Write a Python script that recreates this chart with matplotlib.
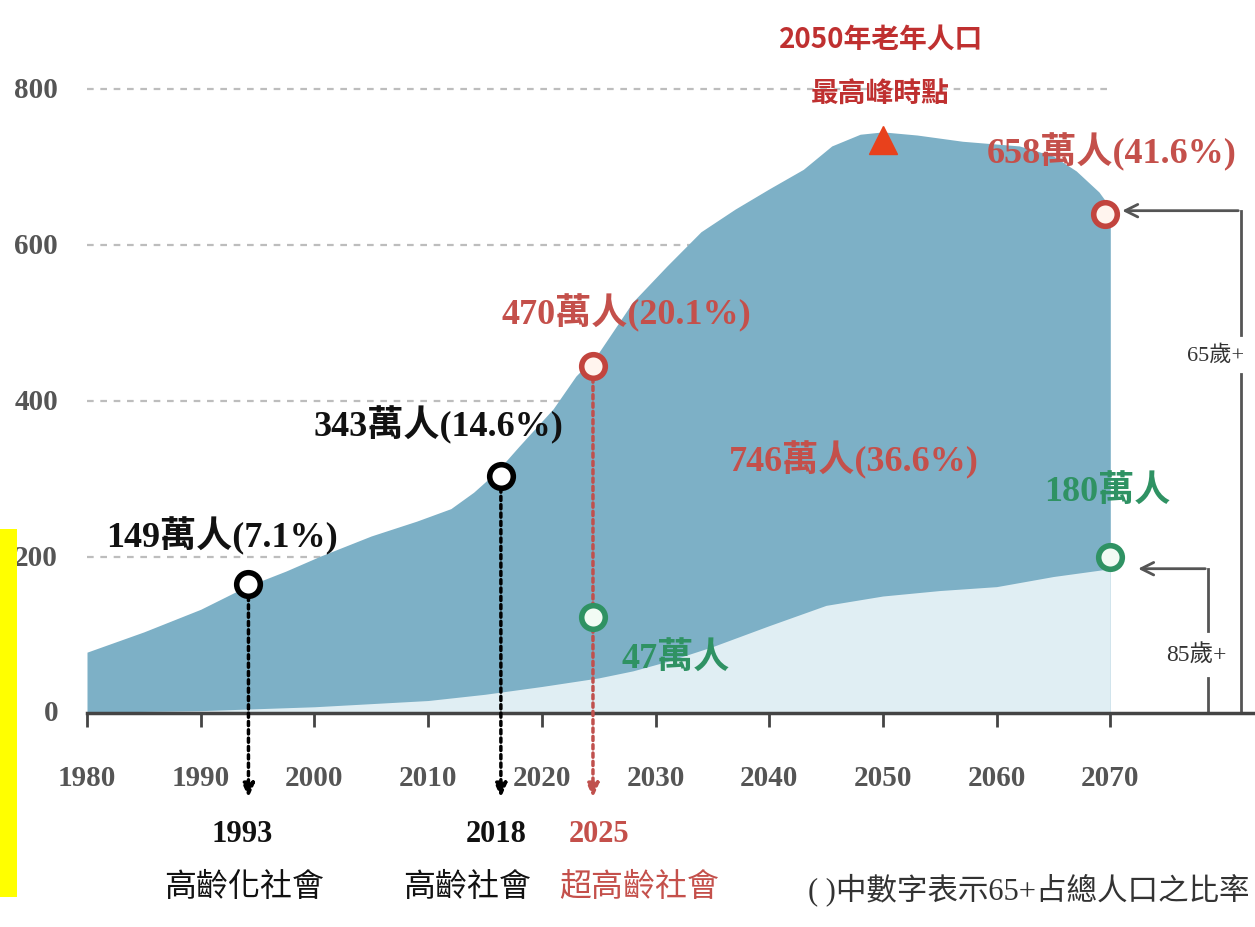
import matplotlib
matplotlib.use("Agg")
import matplotlib.pyplot as plt
from matplotlib.patches import Rectangle

# ---- data ----
years = [1980, 1985, 1990, 1994, 1997.5, 2000.5, 2005, 2009, 2012, 2014, 2016, 2018,
         2021, 2023, 2025, 2028, 2031, 2034, 2037, 2040, 2043, 2045.5, 2048, 2050,
         2053, 2057, 2062, 2065, 2067, 2069, 2070]
pop65 = [78, 104, 133, 162, 182, 201, 227, 246, 262, 283, 309, 342,
         390, 432, 462, 527, 573, 617, 646, 672, 697, 727, 742, 745,
         741, 733, 727, 714, 695, 668, 648]
years85 = [1980, 1990, 2000, 2010, 2015, 2020, 2025, 2028, 2031, 2035, 2040, 2045,
           2050, 2055, 2060, 2065, 2070]
pop85 = [1, 3, 8, 16, 24, 34, 45, 54, 66, 85, 112, 138, 150, 157, 162, 175, 185]

xticks = [1980, 1990, 2000, 2010, 2020, 2030, 2040, 2050, 2060, 2070]
yticks = [0, 200, 400, 600, 800]

# milestone markers (positions as drawn)
black_x = [1994.2, 2016.4]
black_y = [165, 304]
black_labels = ["149萬人(7.1%)", "343萬人(14.6%)"]
red_x = [2024.5, 2069.5]
red_y = [445, 640]
red_labels = ["470萬人(20.1%)", "658萬人(41.6%)"]
green_x = [2024.5, 2070]
green_y = [123, 200]
green_labels = ["47萬人", "180萬人"]
peak_x, peak_y = 2050, 735
mid_label = "746萬人(36.6%)"

milestones = [("1993", "高齡化社會"), ("2018", "高齡社會"), ("2025", "超高齡社會")]

# ---- style ----
BLUE = "#7db0c6"
LIGHT = "#e0eef3"
RED = "#c4504b"
RED2 = "#bf3030"
GREEN = "#2f9263"
GRAY = "#555555"
SERIF = ["Liberation Serif", "Noto Sans CJK TC", "DejaVu Sans"]
CJK = ["Noto Sans CJK TC", "DejaVu Sans"]

W, H = 1255, 928
fig = plt.figure(figsize=(W / 100, H / 100), dpi=100)
px_per_unit = 0.78
ax = fig.add_axes([87 / W, 214 / H, (W - 87) / W, 714 / H])
ax.set_xlim(1980, 1980 + (W - 87) / 11.37)
ax.set_ylim(0, 714 / px_per_unit)
ax.patch.set_alpha(0)

for s in ["top", "right", "left"]:
    ax.spines[s].set_visible(False)
ax.spines["bottom"].set_color("#444444")
ax.spines["bottom"].set_linewidth(2.5)

# grid
ax.hlines([200, 400, 600, 800], 1980, 2070, colors="#bdbdbd", linestyles=(0, (3, 3)),
          linewidth=1.6, zorder=0)

ax.fill_between(years, pop65, 0, color=BLUE, lw=0, zorder=1)
ax.fill_between(years85, pop85, 0, color=LIGHT, lw=0, zorder=2)

ax.set_xticks(xticks)
ax.set_xticklabels([str(t) for t in xticks])
ax.set_yticks([])
ax.tick_params(axis="x", direction="out", length=10, width=2, color="#444444", pad=27)
for lab in ax.get_xticklabels():
    lab.set_fontfamily(SERIF)
    lab.set_fontweight("bold")
    lab.set_fontsize(21)
    lab.set_color(GRAY)

for v in yticks:
    ax.text(1980 - 29 / 11.37, v, str(v), ha="right", va="center", fontsize=21,
            fontweight="bold", family=SERIF, color=GRAY)

# dotted arrows to milestones
arrow_bottom = -112
for x, ytop, col in [(black_x[0], black_y[0], "black"), (black_x[1], black_y[1], "black"),
                     (red_x[0], red_y[0], "#c0504d")]:
    ax.annotate("", xy=(x, arrow_bottom), xytext=(x, ytop - 12),
                arrowprops=dict(arrowstyle="-|>,head_width=0.35,head_length=0.8",
                                color=col, lw=2.5, linestyle=(0, (1.2, 1.2))),
                annotation_clip=False, zorder=4)

# circles
ax.plot(black_x, black_y, "o", ms=17, mfc="white", mec="black", mew=4, zorder=5)
ax.plot(red_x, red_y, "o", ms=17, mfc="#fff4ee", mec="#c2443e", mew=4, zorder=5)
ax.plot(green_x, green_y, "o", ms=17, mfc="#f2fbf4", mec=GREEN, mew=4, zorder=5)
ax.plot([peak_x], [peak_y], "^", ms=20, color="#e8411c", zorder=5)

# labels
ax.text(1991.9, 228, black_labels[0], ha="center", va="center", fontsize=26,
        fontweight="bold", family=SERIF, color="#111111", zorder=6)
ax.text(2010.9, 370, black_labels[1], ha="center", va="center", fontsize=26,
        fontweight="bold", family=SERIF, color="#111111", zorder=6)
ax.text(2027.4, 514, red_labels[0], ha="center", va="center", fontsize=26,
        fontweight="bold", family=SERIF, color=RED, zorder=6)
ax.text(2070.1, 720, red_labels[1], ha="center", va="center", fontsize=26,
        fontweight="bold", family=SERIF, color=RED, zorder=6)
ax.text(2047.4, 325, mid_label, ha="center", va="center", fontsize=26,
        fontweight="bold", family=SERIF, color=RED, zorder=6)
ax.text(2069.7, 284, green_labels[1], ha="center", va="center", fontsize=26,
        fontweight="bold", family=SERIF, color=GREEN, zorder=6)
ax.text(2031.8, 69, green_labels[0], ha="center", va="center", fontsize=26,
        fontweight="bold", family=SERIF, color=GREEN, zorder=6)

# peak title
ax.text(2049.8, 864, "2050年老年人口", ha="center", va="center", fontsize=20,
        fontweight="bold", family=CJK, color=RED2, zorder=6)
ax.text(2049.8, 794, "最高峰時點", ha="center", va="center", fontsize=20,
        fontweight="bold", family=CJK, color=RED2, zorder=6)

# milestone labels under axis
ms_x = [1993.6, 2016.0, 2025.0]
ms_x2 = [1993.8, 2013.4, 2028.6]
ms_col = ["#111111", "#111111", RED]
for (yr, name), x1, x2, c in zip(milestones, ms_x, ms_x2, ms_col):
    ax.text(x1, -155, yr, ha="center", va="center", fontsize=22, fontweight="bold",
            family=SERIF, color=c, clip_on=False)
    ax.text(x2, -222, name, ha="center", va="center", fontsize=23,
            family=CJK, color=c, clip_on=False)

# brackets on the right
bk = "#555555"
ax.annotate("", xy=(2070.8, 644), xytext=(2081.5, 644),
            arrowprops=dict(arrowstyle="->,head_width=0.45,head_length=0.9", color=bk, lw=2),
            annotation_clip=False)
ax.plot([2081.5, 2081.5], [644, 485], color=bk, lw=2, clip_on=False)
ax.plot([2081.5, 2081.5], [435, 0], color=bk, lw=2, clip_on=False)
ax.text(2079.3, 460, "65歲+", ha="center", va="center", fontsize=16,
        family=SERIF, color="#333333", clip_on=False)

ax.annotate("", xy=(2072.2, 185), xytext=(2078.6, 185),
            arrowprops=dict(arrowstyle="->,head_width=0.45,head_length=0.9", color=bk, lw=2),
            annotation_clip=False)
ax.plot([2078.6, 2078.6], [185, 105], color=bk, lw=2, clip_on=False)
ax.plot([2078.6, 2078.6], [45, 0], color=bk, lw=2, clip_on=False)
ax.text(2077.6, 76, "85歲+", ha="center", va="center", fontsize=17,
        family=SERIF, color="#333333", clip_on=False)

# footnote
fig.text(1250 / W, 1 - 890 / H, "( )中數字表示65+占總人口之比率", ha="right", va="center",
         fontsize=22, family=SERIF, color="#333333")

# yellow marker strip at left edge
fig.patches.append(Rectangle((0, 1 - 898 / H), 17 / W, 368 / H, transform=fig.transFigure,
                             facecolor="#ffff00", edgecolor="none", zorder=10))

fig.savefig("out.png", dpi=100)
